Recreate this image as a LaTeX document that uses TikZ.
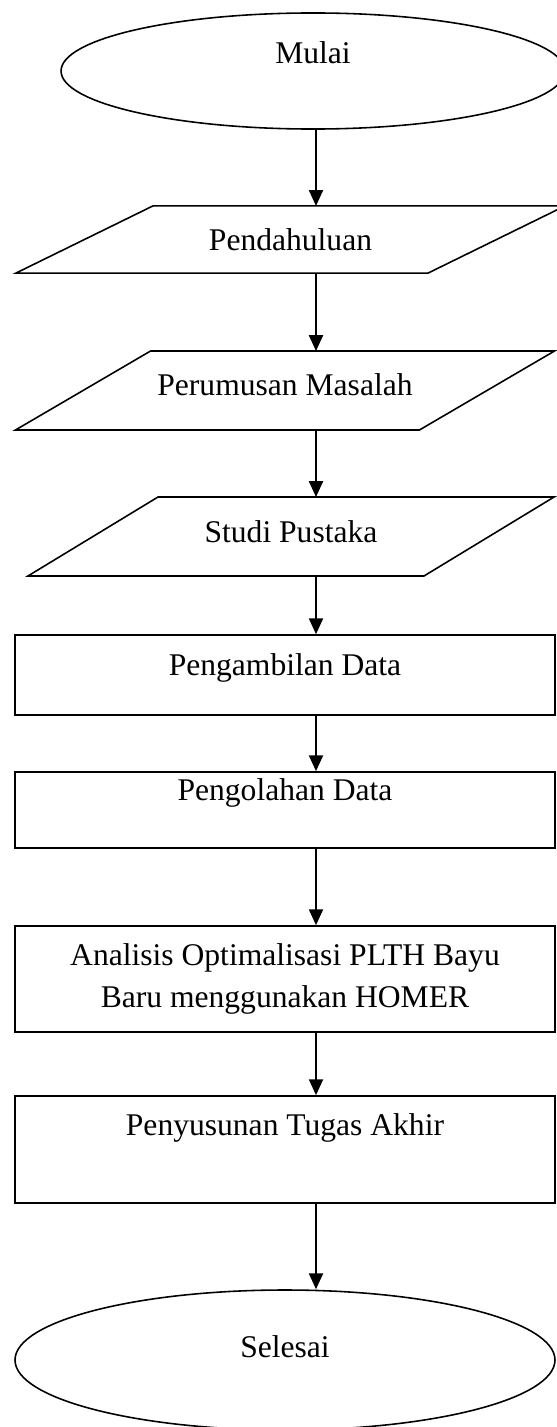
\documentclass[tikz,border=0pt]{standalone}
\usepackage{fontspec}
\setmainfont{Liberation Serif}
\usetikzlibrary{shapes.geometric,arrows.meta}

\begin{document}
\begin{tikzpicture}[x=0.38pt, y=-0.38pt, font=\fontsize{12}{16}\selectfont]
    % Styles
    \tikzstyle{terminal} = [ellipse, draw=black, line width=0.6pt, inner sep=0pt, minimum width=205.2pt]
    \tikzstyle{inout} = [rectangle, inner sep=0pt, outer sep=0pt]
    \tikzstyle{process} = [rectangle, draw=black, line width=0.6pt, inner sep=0pt, minimum width=205.2pt, align=center]
    \tikzstyle{outline} = [draw=black, line width=0.6pt, line join=miter]
    \tikzstyle{arrow} = [->, >={Triangle[length=6pt, width=5.3pt]}, line width=0.75pt, black]

    \useasboundingbox (0,0) rectangle (557,1427);

    % Nodes - explicit coordinates
    \node[terminal, minimum width=191.5pt, minimum height=44.1pt, text depth=14.1pt] (mulai) at (313,71) {Mulai};

    \node[inout, minimum width=156.6pt, minimum height=25.5pt] (pend) at (290.5,239.5) {Pendahuluan};
    \node[inout, minimum width=153.5pt, minimum height=30pt, text depth=4.6pt] (rumus) at (285,390.5) {Perumusan Masalah};
    \node[inout, minimum width=150.5pt, minimum height=30pt, text depth=3.8pt] (pustaka) at (291,536.5) {Studi Pustaka};

    \node[process, minimum height=30.4pt, text depth=7.6pt] (ambil) at (285,675) {Pengambilan Data};
    \node[process, minimum height=28.9pt, text depth=15.6pt] (olah) at (285,810) {Pengolahan Data};
    \node[process, minimum height=40.3pt] (homer) at (285,979) {Analisis Optimalisasi PLTH Bayu\\Baru menggunakan HOMER};
    \node[process, minimum height=40.7pt, text depth=19pt] (tugas) at (285,1149.5) {Penyusunan Tugas Akhir};

    \node[terminal, minimum height=53.2pt, text depth=10.3pt] (selesai) at (285,1360) {Selesai};

    % Slanted input/output boxes
    \foreach \n/\s in {pend/26pt, rumus/25.65pt, pustaka/24.7pt}
        \draw[outline] ([xshift=-\s]\n.south west) -- ([xshift=-\s]\n.south east)
            -- ([xshift=\s]\n.north east) -- ([xshift=\s]\n.north west) -- cycle;

    % Arrows
    \coordinate (spine) at (316,0);
    \draw[arrow] (mulai.south -| spine) -- (pend.north -| spine);
    \draw[arrow] (pend.south -| spine) -- (rumus.north -| spine);
    \draw[arrow] (rumus.south -| spine) -- (pustaka.north -| spine);
    \draw[arrow] (pustaka.south -| spine) -- (ambil.north -| spine);
    \draw[arrow] (ambil.south -| spine) -- (olah.north -| spine);
    \draw[arrow] (olah.south -| spine) -- (homer.north -| spine);
    \draw[arrow] (homer.south -| spine) -- (tugas.north -| spine);
    \draw[arrow] (tugas.south -| spine) -- (selesai.north -| spine);
\end{tikzpicture}
\end{document}
